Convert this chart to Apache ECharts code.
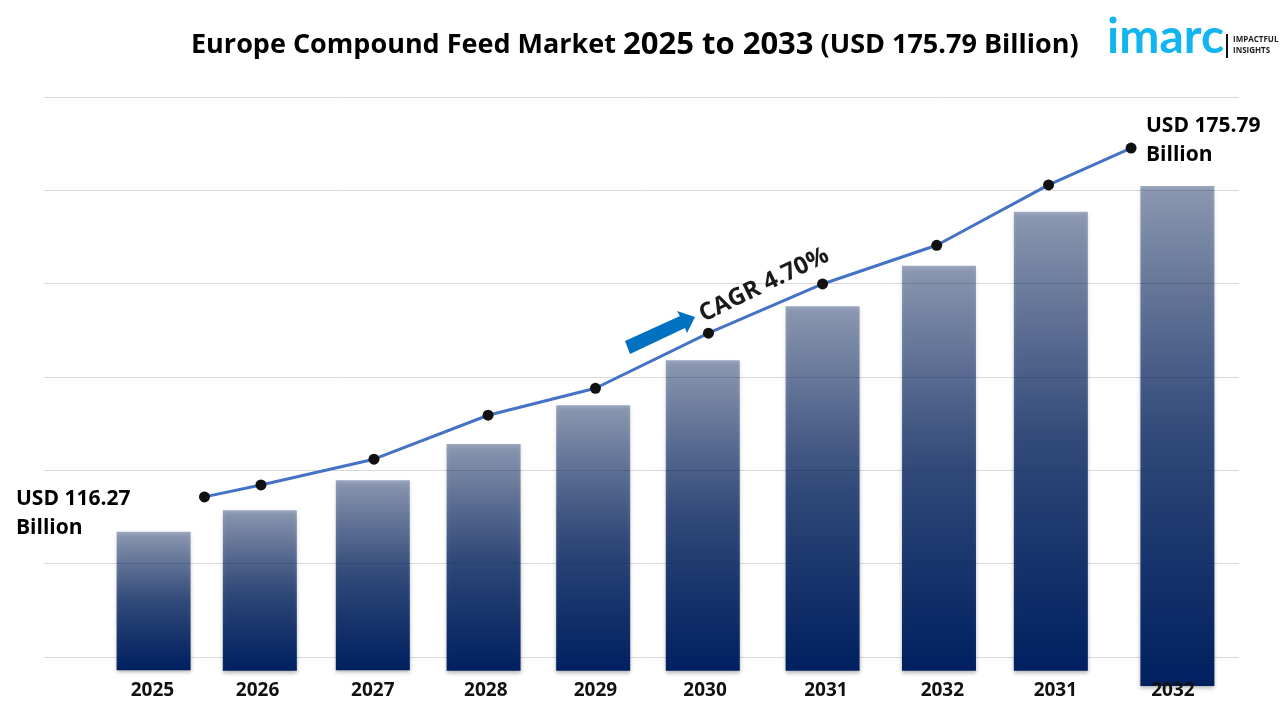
<!DOCTYPE html>
<html>
<head>
<meta charset="utf-8">
<title>Europe Compound Feed Market</title>
<script src="https://cdn.jsdelivr.net/npm/echarts@6/dist/echarts.min.js"></script>
<style>
html, body { margin: 0; padding: 0; background: #fff; }
#main { width: 1280px; height: 720px; }
</style>
</head>
<body>
<div id="main"></div>
<script>
// tick labels as printed in the picture (2031 / 2032 really do repeat)
var tickLabels = ['2025', '2026', '2027', '2028', '2029', '2030', '2031', '2032', '2031', '2032'];
var tickSlots = [0.96, 1.89, 2.91, 3.91, 4.88, 5.85, 6.92, 7.95, 8.95, 9.99];

// the bars and the line are not evenly spaced, so x is a slot number, not a category
var barSlots = [0.97, 1.91, 2.91, 3.89, 4.86, 5.83, 6.89, 7.92, 8.91, 10.03];
var barTops = [110.3, 114.0, 119.1, 125.3, 131.9, 139.6, 148.8, 155.7, 164.9, 169.3];
var barBases = [86.7, 86.6, 86.7, 86.6, 86.6, 86.6, 86.6, 86.6, 86.6, 84];

var lineSlots = [1.42, 1.92, 2.92, 3.93, 4.88, 5.88, 6.89, 7.90, 8.89, 9.62];
var lineValues = [116.27, 118.3, 122.7, 130.2, 134.8, 144.2, 152.6, 159.2, 169.5, 175.79];

var textFont = '"Open Sans", "Noto Sans", sans-serif';
var barWidth = 74;

function zip(xs, ys) {
    return xs.map(function (x, i) {
        return [x, ys[i]];
    });
}

// a plain bar can't start above the axis minimum, so the bars are custom rects
var renderBar = function (params, api) {
    var top = api.coord([api.value(0), api.value(2)]);
    var bottom = api.coord([api.value(0), api.value(1)]);
    return {
        type: 'rect',
        shape: {
            x: top[0] - barWidth / 2,
            y: top[1],
            width: barWidth,
            height: bottom[1] - top[1]
        },
        style: {
            fill: new echarts.graphic.LinearGradient(0, 0, 0, 1, [
                { offset: 0, color: 'rgba(0,32,96,0.38)' },
                { offset: 0.5, color: 'rgba(0,32,96,0.75)' },
                { offset: 1, color: '#002060' }
            ]),
            shadowColor: 'rgba(0,0,0,0.3)',
            shadowBlur: 4,
            shadowOffsetY: 2
        }
    };
};

var myChart = echarts.init(document.getElementById('main'));

myChart.setOption({
    animation: false,
    backgroundColor: '#ffffff',
    title: {
        left: 186,
        top: 25,
        text: '{a|Europe Compound Feed Market }{b|2025 to 2033}{a| (USD 175.79 Billion)}',
        textStyle: {
            rich: {
                a: { fontFamily: textFont, fontWeight: 'bold', fontSize: 27, color: '#000' },
                b: { fontFamily: textFont, fontWeight: 'bold', fontSize: 31, color: '#000' }
            }
        }
    },
    grid: [
        // grid 0 only carries the seven horizontal rules
        { left: 44, right: 41, top: 97, height: 560 },
        { left: 44, right: 41, top: 97, height: 589 }
    ],
    xAxis: [
        { gridIndex: 0, type: 'value', min: 0, max: 1, show: false },
        {
            gridIndex: 1,
            type: 'value',
            min: 0,
            max: 10.575,
            z: 5,
            splitLine: { show: false },
            axisLine: { show: false },
            axisTick: { show: false },
            axisLabel: {
                customValues: tickSlots,
                margin: -5,
                verticalAlign: 'top',
                fontFamily: textFont,
                fontWeight: 'bold',
                fontSize: 19,
                color: '#111',
                formatter: function (value) {
                    return tickLabels[tickSlots.indexOf(value)];
                }
            }
        }
    ],
    yAxis: [
        {
            gridIndex: 0,
            type: 'value',
            min: 0,
            max: 6,
            interval: 1,
            axisLine: { show: false },
            axisTick: { show: false },
            axisLabel: { show: false },
            splitLine: { lineStyle: { color: '#d9d9d9', width: 1 } }
        },
        { gridIndex: 1, type: 'value', min: 84, max: 184.5, show: false }
    ],
    series: [
        {
            type: 'custom',
            xAxisIndex: 1,
            yAxisIndex: 1,
            clip: false,
            encode: { x: 0, y: [1, 2] },
            renderItem: renderBar,
            data: barSlots.map(function (x, i) {
                return [x, barBases[i], barTops[i]];
            })
        },
        {
            type: 'line',
            xAxisIndex: 1,
            yAxisIndex: 1,
            z: 4,
            symbol: 'circle',
            symbolSize: 11,
            itemStyle: { color: '#111111' },
            lineStyle: { color: '#4472c4', width: 3 },
            data: zip(lineSlots, lineValues)
        }
    ],
    graphic: [
        {
            type: 'text', left: 16, top: 485, z: 10,
            style: { text: 'USD 116.27\nBillion', fontFamily: textFont, fontWeight: 'bold', fontSize: 21, lineHeight: 29, fill: '#000' }
        },
        {
            type: 'text', left: 1146, top: 112, z: 10,
            style: { text: 'USD 175.79\nBillion', fontFamily: textFont, fontWeight: 'bold', fontSize: 21, lineHeight: 29, fill: '#000' }
        },
        {
            // CAGR arrow
            type: 'polygon', z: 10,
            shape: { points: [[625, 341], [680, 316], [677, 311], [695, 317], [687, 333], [685, 328], [630, 354]] },
            style: { fill: '#0070c0' }
        },
        {
            type: 'text', x: 764, y: 285, rotation: 26 * Math.PI / 180, z: 10,
            style: { text: 'CAGR 4.70%', fontFamily: textFont, fontWeight: 'bold', fontSize: 24, fill: '#1a1a1a', align: 'center', verticalAlign: 'middle' }
        },
        // logo
        {
            type: 'circle', z: 10,
            shape: { cx: 1113, cy: 20, r: 3.5 },
            style: { fill: '#12b5f0' }
        },
        {
            type: 'text', x: 1107, y: 62, z: 10,
            style: { text: 'ımarc', fontFamily: 'Lato, sans-serif', fontWeight: 'bold', fontSize: 48, fill: '#12b5f0', verticalAlign: 'bottom' }
        },
        {
            type: 'rect', z: 10,
            shape: { x: 1226, y: 34, width: 2, height: 24 },
            style: { fill: '#111' }
        },
        {
            type: 'text', x: 1233, y: 34, z: 10,
            style: { text: 'IMPACTFUL\nINSIGHTS', fontFamily: textFont, fontWeight: 'bold', fontSize: 8, lineHeight: 11, fill: '#222' }
        }
    ]
});
</script>
</body>
</html>
